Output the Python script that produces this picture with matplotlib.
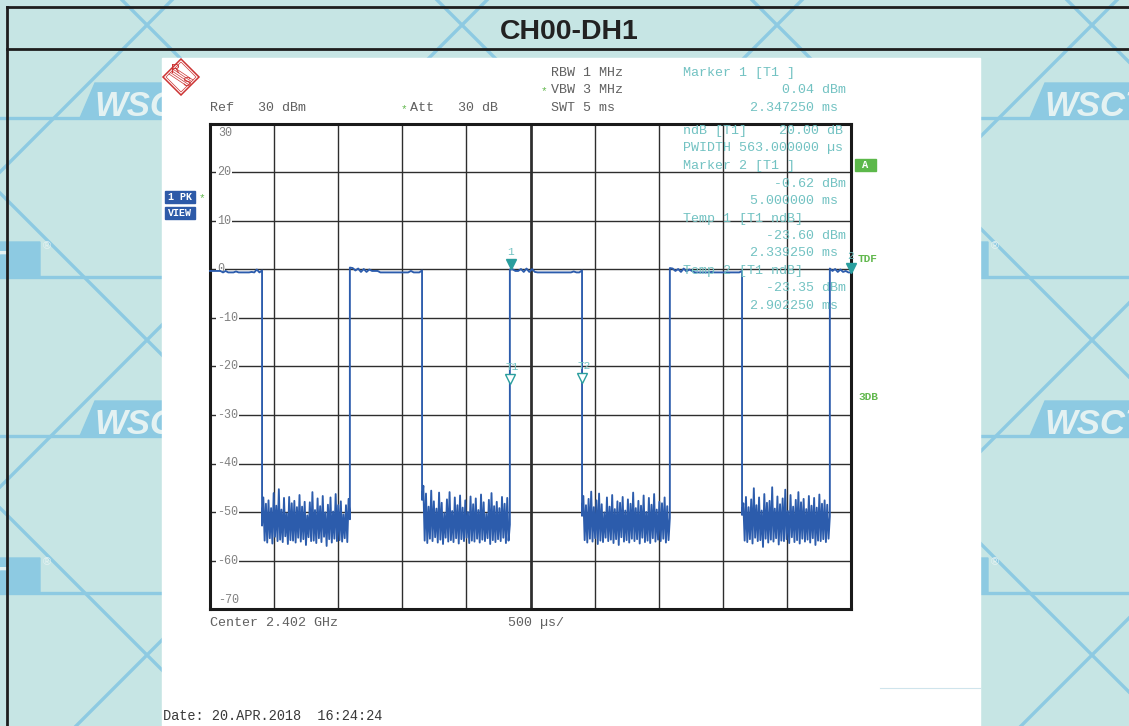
import matplotlib
matplotlib.use("Agg")
import numpy as np
import matplotlib.pyplot as plt
from matplotlib.patches import Rectangle, Polygon
from matplotlib.transforms import offset_copy

# ---------------------------------------------------------------- data
span_ms = 5.0                     # 10 div x 500 us
level_top, level_bottom = 30, -70 # Ref 30 dBm, 10 dB/div

# burst edges (ms)
fall_ms = [0.406, 1.654, 2.902, 4.150]
rise_ms = [1.091, 2.339, 3.587, 4.835]

# trace level while the transmitter is on (dBm), one list per burst
burst_0 = [-0.3, -0.3, -0.3, -0.3, -0.3, -0.6, -0.3, -0.6, -0.6, -0.6, -0.4,
           -0.6, -0.6, -0.6, -0.6, -0.6, -0.5, -0.6, 0.0, -0.6, -0.2]
burst_1 = [0.4, 0.3, -0.2, 0.2, -0.5, 0.1, -0.5, 0.0, -0.3, -0.3, -0.3, -0.6,
           -0.6, -0.6, -0.6, -0.6, -0.6, -0.6, -0.6, -0.6, -0.6, -0.6, -0.3,
           -0.6, -0.6, -0.6, -0.2]
burst_2 = [0.0, 0.04, -0.3, -0.3, 0.1, -0.5, 0.2, -0.5, 0.1, -0.5, -0.6, -0.6,
           -0.6, -0.6, -0.6, -0.6, -0.6, -0.6, -0.6, -0.6, -0.6, -0.6, -0.6,
           -0.4, -0.6, -0.6, -0.2]
burst_3 = [0.3, 0.2, -0.3, 0.1, -0.5, 0.2, -0.4, 0.0, -0.3, -0.6, -0.6, -0.6,
           -0.6, -0.6, -0.6, -0.5, -0.6, -0.6, -0.6, -0.6, -0.6, -0.6, -0.6,
           -0.6, -0.6, -0.6, -0.3]
burst_4 = [0.2, -0.3, 0.1, -0.5, 0.0, -0.5, -0.3, -0.6, -0.62]

# noise floor between bursts (dBm), one list per gap
gap_0 = [-52.8, -47.0, -55.9, -48.3, -56.3, -47.6, -55.4, -49.2, -56.5, -46.1,
         -55.1, -48.7, -56.0, -45.3, -55.7, -49.5, -56.2, -47.1, -55.0, -50.3,
         -56.6, -46.9, -55.8, -48.2, -55.9, -47.7, -56.3, -49.0, -55.3, -46.5,
         -56.1, -48.9, -55.6, -47.9, -56.8, -50.7, -55.2, -48.0, -56.0, -45.9,
         -55.9, -49.6, -56.4, -47.2, -55.4, -48.8, -56.2, -46.7, -55.1, -50.1,
         -57.0, -48.5, -55.6, -47.0, -56.3, -49.9, -55.5, -46.3, -56.0, -48.6,
         -55.8, -47.8, -56.1, -50.5, -55.4, -48.6, -56.2, -47.3, -51.5]
gap_1 = [-47.5, -44.6, -55.9, -46.2, -56.4, -48.9, -55.5, -45.6, -56.0, -47.8,
         -55.2, -49.3, -56.3, -46.0, -55.7, -48.1, -56.6, -50.2, -55.3, -47.4,
         -56.1, -45.9, -55.8, -49.8, -56.2, -47.0, -55.4, -48.6, -56.5, -46.6,
         -55.6, -49.1, -56.0, -47.6, -55.3, -50.0, -56.4, -46.8, -55.9, -48.4,
         -56.1, -47.2, -55.5, -49.6, -56.3, -46.4, -55.7, -48.0, -56.0, -50.4,
         -55.4, -47.5, -56.6, -46.1, -55.8, -48.8, -56.2, -47.9, -55.6, -49.2,
         -56.0, -46.9, -55.3, -48.3, -56.4, -47.1, -55.9, -52.6]
gap_2 = [-50.8, -46.7, -55.8, -48.6, -56.3, -47.3, -55.5, -45.8, -56.1, -49.0,
         -55.4, -47.6, -56.6, -46.2, -55.9, -48.4, -56.2, -50.1, -55.3, -47.0,
         -56.0, -48.9, -55.7, -46.5, -56.4, -49.4, -55.6, -47.8, -56.8, -48.1,
         -55.2, -46.9, -56.1, -49.7, -55.8, -47.4, -56.3, -48.3, -55.5, -46.0,
         -56.0, -49.2, -55.6, -47.7, -56.5, -48.7, -55.3, -46.6, -56.2, -50.0,
         -55.9, -47.1, -56.4, -48.5, -55.4, -46.3, -56.1, -49.5, -55.7, -47.9,
         -56.0, -48.2, -55.5, -47.0, -56.3, -48.8, -55.8, -51.2]
gap_3 = [-50.6, -48.2, -55.9, -46.9, -56.2, -49.0, -55.6, -47.4, -56.5, -45.1,
         -55.3, -48.6, -56.0, -47.0, -55.8, -49.7, -57.2, -46.3, -55.5, -48.1,
         -56.3, -47.7, -55.7, -44.9, -56.1, -49.3, -55.4, -46.8, -56.7, -48.4,
         -55.9, -47.2, -56.0, -45.4, -55.6, -49.8, -56.4, -46.5, -55.2, -48.9,
         -56.2, -47.5, -55.8, -45.9, -56.5, -48.0, -55.5, -47.3, -56.1, -49.4,
         -55.7, -46.7, -56.3, -48.7, -55.4, -47.1, -56.8, -49.1, -55.9, -46.4,
         -56.0, -48.3, -55.6, -47.6, -56.2, -48.5, -55.5, -50.9]

bursts = [burst_0, burst_1, burst_2, burst_3, burst_4]
gaps = [gap_0, gap_1, gap_2, gap_3]

# markers (time ms, level dBm)
marker_1 = (2.347250, 0.04)
marker_2 = (5.000000, -0.62)
temp_1 = (2.339250, -23.60)
temp_2 = (2.902250, -23.35)
pwidth_us = 563.0
ndb = 20.00

y_labels = ["30", "20", "10", "0", "-10", "-20", "-30", "-40", "-50", "-60", "-70"]

# ---------------------------------------------------------------- trace
starts = [0.0] + rise_ms
ends = fall_ms + [span_ms]
tt, yy = [], []
for i, lev in enumerate(bursts):
    tt.append(np.linspace(starts[i], ends[i], len(lev)))
    yy.append(np.asarray(lev))
    if i < len(gaps):
        tt.append(np.linspace(fall_ms[i], rise_ms[i], len(gaps[i])))
        yy.append(np.asarray(gaps[i]))
trace_t = np.concatenate(tt)
trace_y = np.concatenate(yy)

# ---------------------------------------------------------------- figure
W, H, DPI = 1129, 726, 100
fig = plt.figure(figsize=(W / DPI, H / DPI), dpi=DPI)

MONO = ["Liberation Mono", "DejaVu Sans Mono"]
SANS = ["Liberation Sans", "DejaVu Sans"]
BG = "#c6e5e4"
WM = "#8dcae2"
TEAL = "#72c2c2"
TEAL_D = "#2a9e9e"
GREEN = "#62b84e"
GRAY = "#606060"
BLUE = "#2c5cac"

# background sheet with watermark lattice
bg = fig.add_axes([0, 0, 1, 1], zorder=0)
bg.set_xlim(0, W)
bg.set_ylim(H, 0)
bg.axis("off")
bg.add_patch(Rectangle((0, 0), W, H, color=BG, zorder=0))
xs = np.array([-400, W + 400])
for k in range(-4, 8):
    c1 = 172 + 315 * k
    c2 = 122 + 315 * k
    bg.plot(xs, c1 - xs, color=WM, lw=2.4, zorder=1, solid_capstyle="butt")
    bg.plot(xs, xs - c2, color=WM, lw=2.4, zorder=1, solid_capstyle="butt")
for yh in [118, 277, 436, 593]:
    bg.plot([0, W], [yh, yh], color=WM, lw=2.4, zorder=1)


def logo(xl, yb, length=135, h=35):
    bg.add_patch(Polygon([(xl, yb), (xl + 15, yb - h), (xl + 15 + length, yb - h),
                          (xl + 15 + length, yb)], closed=True, color=WM, zorder=2))
    bg.text(xl + 14, yb - 2, "WSCT", fontsize=25, fontweight="bold", fontstyle="italic",
            family=SANS, color="#e4f2f2", ha="left", va="baseline", zorder=3,
            clip_on=True)
    bg.text(xl + 15 + length + 3, yb - h + 4, "\u00ae", fontsize=8, color="#e4f2f2",
            family=SANS, ha="left", va="center", zorder=3, clip_on=True)


logo(80, 118)
logo(1030, 118)
logo(80, 436)
logo(1030, 436)
logo(-110, 277)
logo(838, 277)
logo(-110, 593)
logo(838, 593)

# title frame
bg.plot([7, W], [7, 7], color="#1e1e1e", lw=2.0, zorder=5)
bg.plot([7, W], [49, 49], color="#1e1e1e", lw=2.0, zorder=5)
bg.plot([7, 7], [7, H], color="#1e1e1e", lw=2.0, zorder=5)
bg.text(569, 32, "CH00-DH1", fontsize=20.5, fontweight="bold", family=SANS,
        color="#222222", ha="center", va="center", zorder=5)

# analyzer screen panel
bg.add_patch(Rectangle((162, 58), 818, H - 58, color="white", zorder=6))
bg.plot([880, 980], [688, 688], color="#cfe4ec", lw=0.8, zorder=7)

# R&S logo
red = "#cc3333"
bg.add_patch(Polygon([(163, 77), (181, 59), (199, 77), (181, 95)], closed=True,
                     facecolor="white", edgecolor=red, lw=1.1, zorder=7))
bg.add_patch(Polygon([(166, 77), (181, 62), (196, 77), (181, 92)], closed=True,
                     facecolor="none", edgecolor=red, lw=0.5, zorder=7))
for d in (-3, -1.5, 0, 1.5, 3):
    bg.plot([172 + d, 190 + d], [71 - d, 83 - d], color=red, lw=0.5, zorder=7)
bg.text(175, 70, "R", fontsize=9, color=red, family=SANS, ha="center", va="center", zorder=8)
bg.text(187, 83, "S", fontsize=9, color=red, family=SANS, ha="center", va="center", zorder=8)

# ---------------------------------------------------------------- diagram
L, R, T, B = 210, 851, 124, 609
ax = fig.add_axes([L / W, (H - B) / H, (R - L) / W, (B - T) / H], zorder=1)
ax.set_facecolor("white")
ax.set_xlim(0, span_ms)
ax.set_ylim(level_bottom, level_top)
ax.set_xticks(np.linspace(0, span_ms, 11))
ax.set_yticks(np.arange(level_bottom, level_top + 1, 10))
ax.tick_params(length=0, labelleft=False, labelbottom=False)
ax.grid(True, color="#2e2e2e", lw=1.0)
ax.axvline(span_ms / 2, color="#151515", lw=1.8, zorder=1)
for s in ax.spines.values():
    s.set_color("#1a1a1a")
    s.set_linewidth(2.2)

# level labels inside the diagram
lbl_tf = ax.get_yaxis_transform()
for i, lab in enumerate(y_labels):
    val = level_top - 10 * i
    if i == 0:
        ax.text(0.013, val - 1.9, lab, transform=lbl_tf, fontsize=8.5, family=MONO,
                color="#808080", ha="left", va="center", zorder=2)
    elif i == len(y_labels) - 1:
        ax.text(0.013, val + 1.9, lab, transform=lbl_tf, fontsize=8.5, family=MONO,
                color="#808080", ha="left", va="center", zorder=2)
    else:
        ax.text(0.011, val, lab, transform=lbl_tf, fontsize=8.5, family=MONO,
                color="#808080", ha="left", va="center", zorder=2,
                bbox=dict(facecolor="white", edgecolor="none", pad=0.6))

ax.plot(trace_t, trace_y, color=BLUE, lw=1.35, zorder=3, clip_on=False)

# marker symbols
up5 = offset_copy(ax.transData, fig=fig, x=0, y=5, units="dots")
up17 = offset_copy(ax.transData, fig=fig, x=0, y=17, units="dots")
for (mt, mv), lab, filled in [(marker_1, "1", True), (marker_2, "2", True),
                              (temp_1, "T1", False), (temp_2, "T2", False)]:
    ax.plot([mt], [mv], marker="v", ms=7, transform=up5, clip_on=False, zorder=5,
            markerfacecolor=TEAL_D if filled else "white", markeredgecolor=TEAL_D,
            mew=1.0)
    ax.text(mt + (0.0 if len(lab) == 1 else 0.02), mv, lab, transform=up17, fontsize=8,
            family=MONO, color=TEAL, ha="center", va="center", zorder=5, clip_on=False)

# ---------------------------------------------------------------- screen texts
ov = fig.add_axes([0, 0, 1, 1], zorder=2)
ov.set_xlim(0, W)
ov.set_ylim(H, 0)
ov.axis("off")
ov.patch.set_alpha(0)


def txt(x, y, s, color=GRAY, ha="left", size=9.6, weight="normal"):
    ov.text(x, y, s, fontsize=size, family=MONO, color=color, ha=ha, va="center",
            fontweight=weight)


txt(551, 73, "RBW 1 MHz")
txt(551, 90, "VBW 3 MHz")
txt(551, 108, "SWT 5 ms")
txt(210, 108, "Ref   30 dBm")
txt(410, 108, "Att   30 dB")
for ax_x, ax_y in [(544, 91), (404, 109), (202, 198)]:
    ov.text(ax_x, ax_y, "*", fontsize=8, family=MONO, color=GREEN, ha="center", va="center")

txt(683, 73, "Marker 1 [T1 ]", TEAL)
txt(846, 90, f"{marker_1[1]:.2f} dBm", TEAL, ha="right")
txt(838, 108, f"{marker_1[0]:.6f} ms", TEAL, ha="right")
txt(683, 131, f"ndB [T1]    {ndb:.2f} dB", TEAL)
txt(683, 148, f"PWIDTH {pwidth_us:.6f} \u00b5s", TEAL)
txt(683, 166, "Marker 2 [T1 ]", TEAL)
txt(846, 184, f"{marker_2[1]:.2f} dBm", TEAL, ha="right")
txt(838, 201, f"{marker_2[0]:.6f} ms", TEAL, ha="right")
txt(683, 219, "Temp 1 [T1 ndB]", TEAL)
txt(846, 236, f"{temp_1[1]:.2f} dBm", TEAL, ha="right")
txt(838, 253, f"{temp_1[0]:.6f} ms", TEAL, ha="right")
txt(683, 271, "Temp 2 [T1 ndB]", TEAL)
txt(846, 288, f"{temp_2[1]:.2f} dBm", TEAL, ha="right")
txt(838, 306, f"{temp_2[0]:.6f} ms", TEAL, ha="right")

# side annotations
ov.add_patch(Rectangle((855, 159), 21, 12, color="#5cb84a"))
ov.text(865.5, 165, "A", fontsize=7.5, family=MONO, color="white", fontweight="bold",
        ha="center", va="center")
txt(858, 259, "TDF", GREEN, size=8, weight="bold")
txt(858, 397, "3DB", GREEN, size=8, weight="bold")

ov.add_patch(Rectangle((165, 191), 30, 12, color="#2d5aa8"))
ov.add_patch(Rectangle((165, 207), 30, 12, color="#2d5aa8"))
ov.text(180, 197, "1 PK", fontsize=7.2, family=MONO, color="white", fontweight="bold",
        ha="center", va="center")
ov.text(180, 213, "VIEW", fontsize=7.2, family=MONO, color="white", fontweight="bold",
        ha="center", va="center")

txt(210, 623, "Center 2.402 GHz")
txt(508, 623, "500 \u00b5s/")
txt(163, 716, "Date: 20.APR.2018  16:24:24", "#3a3a3a", size=9.8)

fig.savefig("out.png", dpi=DPI)
